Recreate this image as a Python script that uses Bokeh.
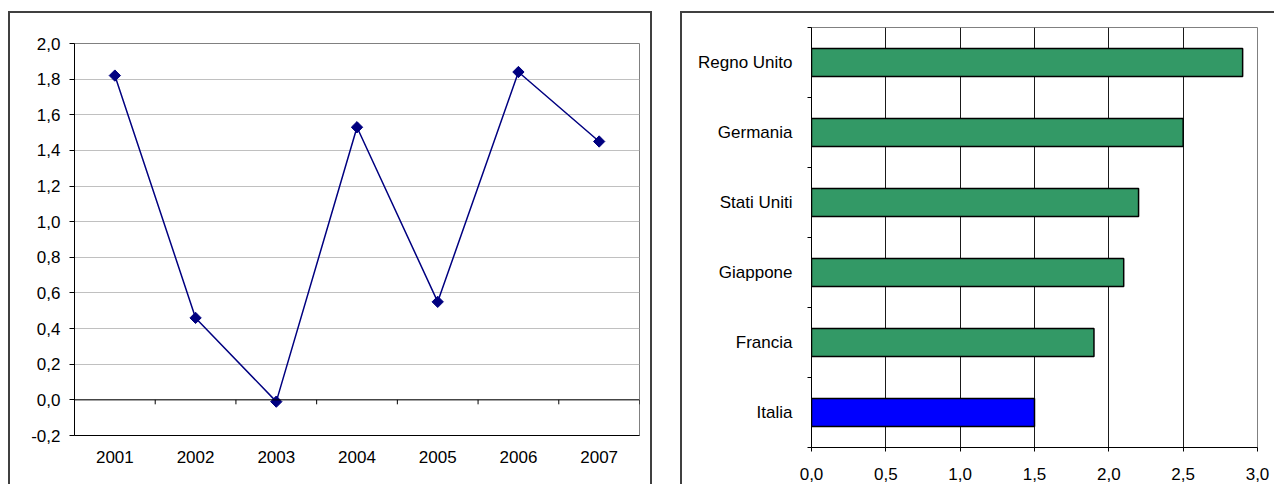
import math
from bokeh.plotting import figure
from bokeh.models import (FactorRange, Range1d, FixedTicker, CustomJSTickFormatter,
                          Span, Spacer)
from bokeh.layouts import row, column
from bokeh.embed import file_html
from bokeh.resources import INLINE

# ---- data: left chart (line) ----
years = ["2001", "2002", "2003", "2004", "2005", "2006", "2007"]
growth = [1.82, 0.46, -0.01, 1.53, 0.55, 1.84, 1.45]
y_ticks = [-0.2, 0.0, 0.2, 0.4, 0.6, 0.8, 1.0, 1.2, 1.4, 1.6, 1.8, 2.0]

# ---- data: right chart (bars), bottom to top ----
countries = ["Italia", "Francia", "Giappone", "Stati Uniti", "Germania", "Regno Unito"]
values = [1.5, 1.9, 2.1, 2.2, 2.5, 2.9]
x_ticks = [0.0, 0.5, 1.0, 1.5, 2.0, 2.5, 3.0]

FONT = "Liberation Sans"
FS = "17px"
BORDER = "2px solid #404040"

comma_fmt = CustomJSTickFormatter(code="return tick.toFixed(1).replace('.', ',');")

# ---------------- left chart ----------------
p1 = figure(width=644, height=473, x_range=FactorRange(*years), y_range=Range1d(-0.2, 2.0),
            output_backend="svg", toolbar_location=None,
            min_border_left=64, min_border_right=15, min_border_top=30, min_border_bottom=51)
p1.frame_align = False
p1.styles = {"border-top": BORDER, "border-left": BORDER, "border-right": BORDER}
p1.outline_line_color = "#808080"
p1.outline_line_width = 1
p1.background_fill_color = "white"
p1.border_fill_color = "white"

p1.xgrid.grid_line_color = None
p1.ygrid.grid_line_color = "#c0c0c0"
p1.ygrid.grid_line_width = 1
p1.ygrid.ticker = FixedTicker(ticks=y_ticks)

ya = p1.yaxis[0]
ya.ticker = FixedTicker(ticks=y_ticks)
ya.formatter = comma_fmt
ya.axis_line_color = "black"
ya.major_tick_line_color = "black"
ya.major_tick_out = 5
ya.major_tick_in = 0
ya.minor_tick_line_color = None
ya.major_label_standoff = 9
ya.major_label_text_font = FONT
ya.major_label_text_font_size = FS
ya.major_label_text_color = "black"

xa = p1.xaxis[0]
xa.axis_line_color = "black"
xa.major_tick_line_color = None
xa.major_tick_out = 0
xa.major_tick_in = 0
xa.major_label_standoff = 15
xa.major_label_text_font = FONT
xa.major_label_text_font_size = FS
xa.major_label_text_color = "black"

p1.add_layout(Span(location=0, dimension="width", line_color="black", line_width=1))
bounds = list(range(len(years) + 1))
p1.segment(x0=bounds, x1=bounds, y0=[0] * len(bounds), y1=[-0.025] * len(bounds),
           line_color="black", line_width=1)

p1.line(years, growth, line_color="#000080", line_width=1.5)
p1.scatter(years, growth, marker="square", angle=math.pi / 4, size=8,
           fill_color="#000080", line_color="#000080")

# ---------------- right chart ----------------
centers = [i + 0.5 for i in range(len(countries))]
edges = list(range(len(countries) + 1))
bar_colors = ["#0000FF" if c == "Italia" else "#339966" for c in countries]

p2 = figure(width=594, height=473, x_range=Range1d(0, 3), y_range=Range1d(0, len(countries)),
            output_backend="svg", toolbar_location=None,
            min_border_left=129, min_border_right=19, min_border_top=14, min_border_bottom=39)
p2.frame_align = False
p2.styles = {"border-top": BORDER, "border-left": BORDER}
p2.outline_line_color = "#808080"
p2.outline_line_width = 1
p2.background_fill_color = "white"
p2.border_fill_color = "white"

p2.ygrid.grid_line_color = None
p2.xgrid.grid_line_color = "#1a1a1a"
p2.xgrid.grid_line_width = 1
p2.xgrid.ticker = FixedTicker(ticks=x_ticks)

xb = p2.xaxis[0]
xb.ticker = FixedTicker(ticks=x_ticks)
xb.formatter = comma_fmt
xb.axis_line_color = "black"
xb.major_tick_line_color = "black"
xb.major_tick_out = 4
xb.major_tick_in = 0
xb.minor_tick_line_color = None
xb.major_label_standoff = 16
xb.major_label_text_font = FONT
xb.major_label_text_font_size = FS
xb.major_label_text_color = "black"

yb = p2.yaxis[0]
yb.ticker = FixedTicker(ticks=centers, minor_ticks=edges)
yb.formatter = CustomJSTickFormatter(args=dict(names=countries),
                                     code="return names[Math.floor(tick)];")
yb.axis_line_color = "black"
yb.major_tick_line_color = None
yb.major_tick_out = 0
yb.major_tick_in = 0
yb.minor_tick_line_color = "black"
yb.minor_tick_out = 4
yb.minor_tick_in = 0
yb.major_label_standoff = 15
yb.major_label_text_font = FONT
yb.major_label_text_font_size = FS
yb.major_label_text_color = "black"

p2.hbar(y=centers, right=values, left=0, height=0.4, fill_color=bar_colors,
        line_color="black", line_width=1.5)

layout = column(Spacer(height=11), row(Spacer(width=8), p1, Spacer(width=28), p2))

open("out.html", "w").write(file_html(layout, INLINE))
